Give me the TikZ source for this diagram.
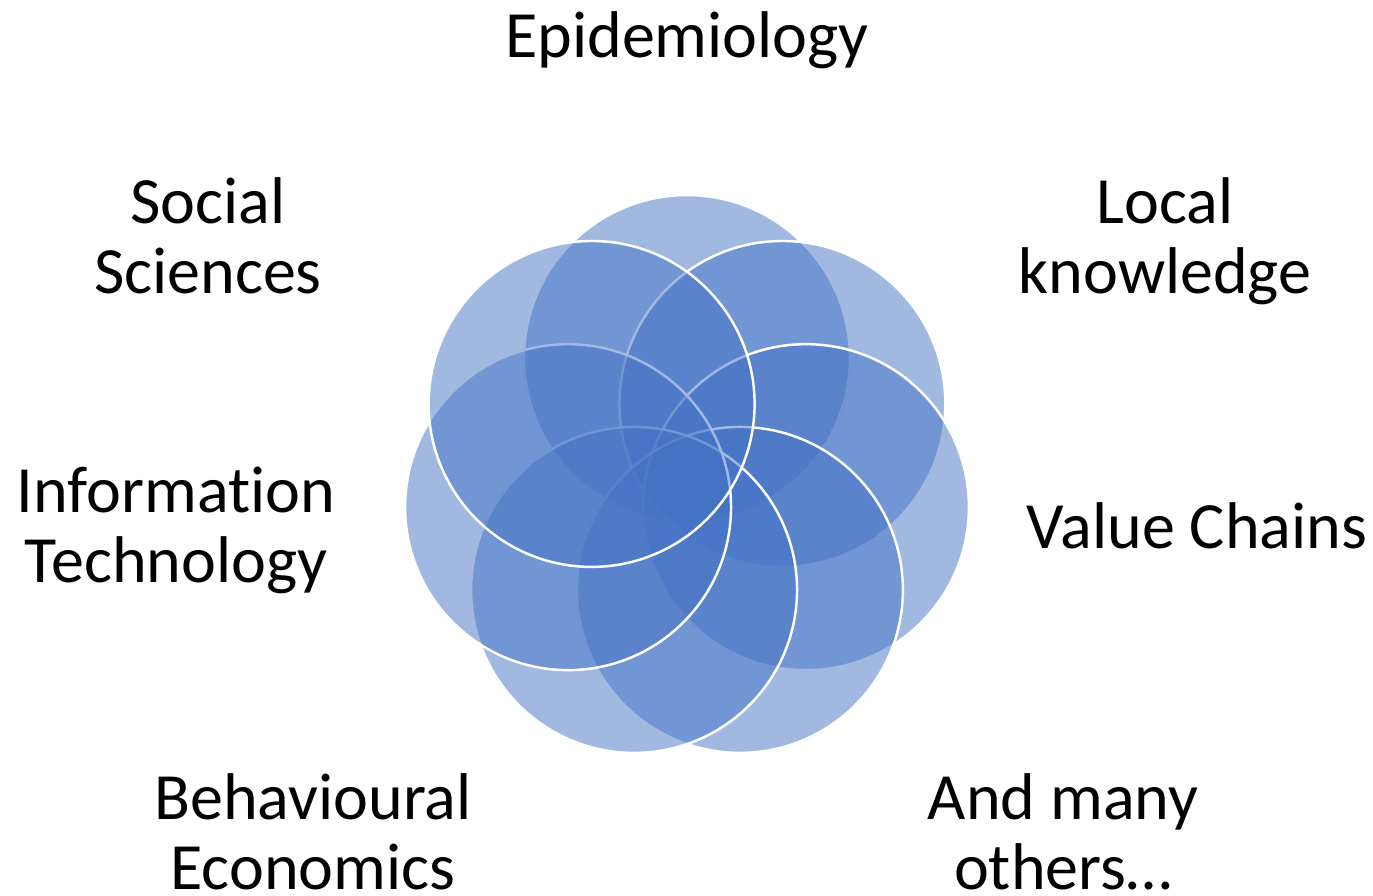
\documentclass[tikz,border=0pt]{standalone}
\usepackage{fontspec}
\setmainfont[Ligatures=NoCommon]{Carlito}
\usetikzlibrary{calc}
\definecolor{venn}{HTML}{4472C4}
\tikzset{
  venncircle/.style={circle, minimum size=6.52cm, inner sep=0pt, draw=white, line width=1.4pt, fill=venn, fill opacity=0.5, draw opacity=1},
  lbl/.style={anchor=base, inner sep=0pt, font=\fontsize{37.6}{39.85}\selectfont}
}
\newcommand{\twolines}[2]{\begin{tabular}[t]{@{}c@{}}#1\\#2\end{tabular}}
\begin{document}
\begin{tikzpicture}[x=0.02cm, y=-0.02cm]
\useasboundingbox (0,0) rectangle (1373,896);
\coordinate (ctr) at (687,480);
\foreach \i in {0,...,6} {
  \node[venncircle] (c\i) at ($(ctr)+({-90+\i*360/7}:122)$) {};
}
\node[lbl] (epi) at (687,57) {Epidemiology};
\node[lbl] (soc) at (208,223) {\twolines{Social}{Sciences}};
\node[lbl] (loc) at (1165,223) {\twolines{Local}{knowledge}};
\node[lbl] (inf) at (176,512) {\twolines{Information}{Technology}};
\node[lbl] (val) at (1197,548) {Value Chains};
\node[lbl] (beh) at (313,819) {\twolines{Behavioural}{Economics}};
\node[lbl] (and) at (1063,819) {\twolines{And many}{others…}};
\end{tikzpicture}
\end{document}
